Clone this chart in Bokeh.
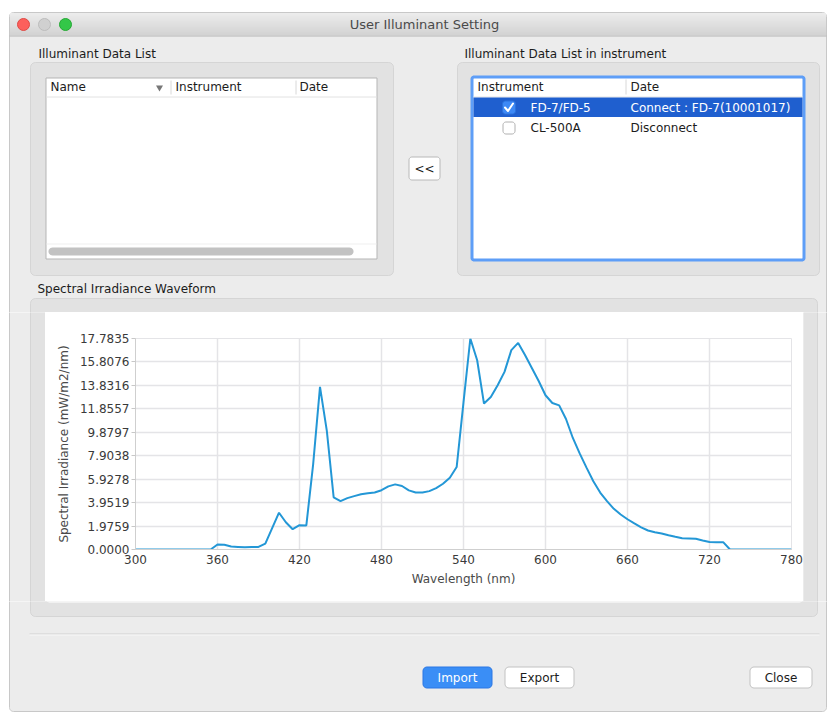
import math
from bokeh.plotting import figure
from bokeh.models import Range1d, FixedTicker, PrintfTickFormatter, ColumnDataSource
from bokeh.layouts import column, row
from bokeh.embed import file_html
from bokeh.resources import INLINE
from bokeh.core.properties import value

# ---------------- data ----------------
wavelength = [300, 305, 310, 315, 320, 325, 330, 335, 340, 345,
              350, 355, 360, 365, 370, 375, 380, 385, 390, 395,
              400, 405, 410, 415, 420, 425, 430, 435, 440, 445,
              450, 455, 460, 465, 470, 475, 480, 485, 490, 495,
              500, 505, 510, 515, 520, 525, 530, 535, 540, 545,
              550, 555, 560, 565, 570, 575, 580, 585, 590, 595,
              600, 605, 610, 615, 620, 625, 630, 635, 640, 645,
              650, 655, 660, 665, 670, 675, 680, 685, 690, 695,
              700, 705, 710, 715, 720, 725, 730, 735, 740, 745,
              750, 755, 760, 765, 770, 775, 780]
irradiance = [0, 0, 0, 0, 0, 0, 0, 0, 0, 0,
              0, 0, 0.42, 0.40, 0.25, 0.22, 0.18, 0.22, 0.22, 0.50,
              1.80, 3.10, 2.30, 1.71, 2.05, 2.03, 7.20, 13.70, 10.00, 4.40,
              4.08, 4.33, 4.50, 4.65, 4.75, 4.81, 5.00, 5.32, 5.49, 5.35,
              4.98, 4.81, 4.81, 4.92, 5.17, 5.54, 6.05, 6.95, 12.40, 17.7835,
              15.95, 12.30, 12.86, 13.84, 14.97, 16.80, 17.41, 16.40, 15.30, 14.20,
              13.00, 12.35, 12.15, 11.00, 9.40, 8.10, 6.90, 5.75, 4.80, 4.08,
              3.43, 2.95, 2.55, 2.20, 1.87, 1.60, 1.46, 1.35, 1.20, 1.07,
              0.95, 0.93, 0.90, 0.76, 0.63, 0.62, 0.62, 0, 0, 0,
              0, 0, 0, 0, 0, 0, 0]
x_ticks = [300, 360, 420, 480, 540, 600, 660, 720, 780]
y_ticks = [0.0, 1.9759, 3.9519, 5.9278, 7.9038, 9.8797, 11.8557, 13.8316, 15.8076, 17.7835]
x_label = "Wavelength (nm)"
y_label = "Spectral Irradiance (mW/m2/nm)"

window_title = "User Illuminant Setting"
left_list_title = "Illuminant Data List"
left_columns = ["Name", "Instrument", "Date"]
right_list_title = "Illuminant Data List in instrument"
right_columns = ["Instrument", "Date"]
instruments = ["FD-7/FD-5", "CL-500A"]
instrument_status = ["Connect : FD-7(10001017)", "Disconnect"]
chart_title = "Spectral Irradiance Waveform"
button_labels = ["Import", "Export", "Close"]
move_label = "<<"

# ---------------- styles ----------------
FONT = "DejaVu Sans"
BODY = "#ececec"
GROUP = "#e2e2e2"
GROUP_LINE = "#d5d5d5"
TEXT = "#1c1c1c"
SEL = "#1f5fcf"
LINE_BLUE = "#2397d6"


def mix(c1, c2, t):
    a = [int(c1[i:i + 2], 16) for i in (1, 3, 5)]
    b = [int(c2[i:i + 2], 16) for i in (1, 3, 5)]
    return "#%02x%02x%02x" % tuple(int(round(a[k] + (b[k] - a[k]) * t)) for k in range(3))


def rpath(l, t, r, b, rad):
    if rad <= 0:
        return [l, r, r, l], [t, t, b, b]
    xs, ys = [], []
    corners = [(l + rad, t + rad, 180), (r - rad, t + rad, 270),
               (r - rad, b - rad, 0), (l + rad, b - rad, 90)]
    for cx, cy, a0 in corners:
        for k in range(7):
            a = math.radians(a0 + 90 * k / 6)
            xs.append(cx + rad * math.cos(a))
            ys.append(cy + rad * math.sin(a))
    return xs, ys


class Canvas:
    def __init__(self, x0, x1, y0, y1, bg="#ffffff"):
        self.r = (x0, x1, y0, y1)
        self.p = figure(width=x1 - x0, height=y1 - y0,
                        x_range=Range1d(x0, x1), y_range=Range1d(y1, y0),
                        x_axis_type=None, y_axis_type=None,
                        toolbar_location=None, output_backend="svg",
                        min_border=0, outline_line_color=None, frame_align=False,
                        background_fill_color=bg, border_fill_color=bg)

    def hit(self, l, t, r, b):
        x0, x1, y0, y1 = self.r
        return r > x0 and l < x1 and b > y0 and t < y1

    def box(self, l, t, r, b, fill, line=None, lw=1, radius=0):
        if not self.hit(l, t, r, b):
            return
        xs, ys = rpath(l, t, r, b, radius)
        self.p.patch(xs, ys, fill_color=fill, line_color=line, line_width=lw)

    def bands(self, l, r, t, b, c1, c2):
        if not self.hit(l, t, r, b):
            return
        n = int(b - t)
        src = ColumnDataSource(dict(
            left=[l] * n, right=[r] * n,
            top=[t + i for i in range(n)], bottom=[t + i + 1.2 for i in range(n)],
            color=[mix(c1, c2, i / max(n - 1, 1)) for i in range(n)]))
        self.p.quad(left="left", right="right", top="top", bottom="bottom",
                    fill_color="color", line_color=None, source=src)

    def seg(self, x0, y0, x1, y1, color, lw=1):
        if not self.hit(min(x0, x1) - 1, min(y0, y1) - 1, max(x0, x1) + 1, max(y0, y1) + 1):
            return
        self.p.segment(x0=[x0], y0=[y0], x1=[x1], y1=[y1], line_color=color, line_width=lw)

    def text(self, x, y, s, size="12px", color=TEXT, align="left", style="normal"):
        if not self.hit(x - 1, y - 1, x + 1, y + 1):
            return
        self.p.text(x=[x], y=[y], text=[s], text_font=value(FONT), text_font_size=size,
                    text_color=color, text_align=align, text_baseline="middle",
                    text_font_style=style)

    def dot(self, x, y, fill, line, size=12):
        if not self.hit(x - 1, y - 1, x + 1, y + 1):
            return
        self.p.scatter(x=[x], y=[y], size=size, fill_color=fill, line_color=line, line_width=1)

    def tri(self, x, y, color, size=7):
        if not self.hit(x - 1, y - 1, x + 1, y + 1):
            return
        self.p.scatter(x=[x], y=[y], marker="inverted_triangle", size=size,
                       fill_color=color, line_color=None)

    def check(self, xs, ys, color):
        if not self.hit(min(xs) - 1, min(ys) - 1, max(xs) + 1, max(ys) + 1):
            return
        self.p.line(x=xs, y=ys, line_color=color, line_width=2, line_join="round", line_cap="round")


def draw_ui(c):
    # dialog body + title bar
    c.box(9, 12, 826, 711, BODY, "#c8c8c8", radius=4)
    c.bands(9.5, 825.5, 12.5, 35, "#ececec", "#d3d3d3")
    c.seg(9, 35.5, 826, 35.5, "#b4b4b4")
    c.dot(23, 24, "#fc605c", "#df4944")
    c.dot(44, 24, "#d0d0d0", "#bcbcbc")
    c.dot(65, 24, "#33c748", "#25a834")
    c.text(424, 24, window_title, size="13px", color="#4a4a4a", align="center")

    # left list
    c.text(38, 53, left_list_title)
    c.box(30, 62, 393, 275, GROUP, GROUP_LINE, radius=5)
    c.box(45.5, 77.5, 376.5, 258.5, "#ffffff", "#b5b5b5")
    c.seg(46, 96.5, 376, 96.5, "#e2e2e2")
    c.seg(170.5, 80, 170.5, 94, "#d8d8d8")
    c.seg(295.5, 80, 295.5, 94, "#d8d8d8")
    c.text(50, 86.5, left_columns[0])
    c.tri(159, 87, "#777777")
    c.text(175, 86.5, left_columns[1])
    c.text(299, 86.5, left_columns[2])
    c.seg(46, 243.5, 376, 243.5, "#efefef")
    c.box(48, 247, 353, 255, "#c2c2c2", radius=4)

    # move button
    c.box(408.5, 156.5, 439.5, 179.5, "#ffffff", "#b8b8b8", radius=3)
    c.text(424, 168.5, move_label, align="center")

    # right list
    c.text(464, 53, right_list_title)
    c.box(457, 62, 819, 275, GROUP, GROUP_LINE, radius=5)
    c.box(471.5, 76.5, 803.5, 259.5, "#ffffff", "#5e9ef7", lw=3, radius=2)
    c.text(477, 86.5, right_columns[0])
    c.seg(625.5, 79, 625.5, 94, "#d8d8d8")
    c.text(630, 86.5, right_columns[1])
    c.seg(473, 96.5, 802, 96.5, "#e2e2e2")
    c.box(473, 97, 802, 116.5, SEL)
    c.box(502, 100.5, 515, 113.5, "#3d89f6", "#2c72dc", radius=3)
    c.check([504.5, 507.5, 512.5], [107, 110.5, 103], "#ffffff")
    c.text(530, 107, instruments[0], color="#ffffff")
    c.text(630, 107, instrument_status[0], color="#ffffff")
    c.box(502.5, 121.5, 514.5, 133.5, "#ffffff", "#b0b0b0", radius=3)
    c.text(530, 127.5, instruments[1])
    c.text(630, 127.5, instrument_status[1])

    # chart group
    c.text(37, 288, chart_title)
    c.box(30, 298, 817, 616, GROUP, GROUP_LINE, radius=5)
    c.box(45, 312, 803, 602, "#ffffff", radius=4)

    # bottom
    c.seg(29, 633.5, 819, 633.5, "#d0d0d0")
    c.seg(29, 634.5, 819, 634.5, "#f8f8f8")
    c.box(422.5, 666.5, 491.5, 687.5, "#3a8ef6", "#2b77e4", radius=4)
    c.text(457, 677, button_labels[0], color="#ffffff", align="center")
    c.box(504.5, 666.5, 573.5, 687.5, "#ffffff", "#c2c2c2", radius=4)
    c.text(539, 677, button_labels[1], align="center")
    c.box(749.5, 666.5, 811.5, 687.5, "#ffffff", "#c2c2c2", radius=4)
    c.text(780.5, 677, button_labels[2], align="center")


def chrome(x0, x1, y0, y1):
    c = Canvas(x0, x1, y0, y1)
    draw_ui(c)
    return c.p


# ---------------- chart ----------------
chart = figure(width=758, height=289,
               x_range=Range1d(x_ticks[0], x_ticks[-1]),
               y_range=Range1d(y_ticks[0], y_ticks[-1]),
               toolbar_location=None, output_backend="svg", frame_align=False,
               min_border_left=90, min_border_right=12, min_border_top=26, min_border_bottom=52,
               background_fill_color="#ffffff", border_fill_color="#ffffff",
               outline_line_color="#e4e4e7")
chart.line(wavelength, irradiance, line_color=LINE_BLUE, line_width=2)

chart.xaxis.ticker = FixedTicker(ticks=x_ticks)
chart.yaxis.ticker = FixedTicker(ticks=y_ticks)
chart.yaxis.formatter = PrintfTickFormatter(format="%.4f")
chart.xgrid.ticker = FixedTicker(ticks=x_ticks)
chart.ygrid.ticker = FixedTicker(ticks=y_ticks)
for g in (chart.xgrid, chart.ygrid):
    g.grid_line_color = "#e4e4e7"
    g.grid_line_width = 1.5

for ax in (chart.xaxis, chart.yaxis):
    ax.axis_line_color = "#cfcfcf"
    ax.major_tick_line_color = "#c8c8c8"
    ax.minor_tick_line_color = None
    ax.major_label_text_font = FONT
    ax.major_label_text_font_size = "12px"
    ax.major_label_text_color = "#3a3a3a"
    ax.axis_label_text_font = FONT
    ax.axis_label_text_font_size = "12px"
    ax.axis_label_text_font_style = "normal"
    ax.axis_label_text_color = "#4a4a4a"

chart.xaxis.axis_label = x_label
chart.yaxis.axis_label = y_label
chart.xaxis.major_tick_in = 0
chart.xaxis.major_tick_out = 0
chart.xaxis.major_label_standoff = 5
chart.xaxis.axis_label_standoff = 5
chart.yaxis.major_tick_in = 0
chart.yaxis.major_tick_out = 4
chart.yaxis.major_label_standoff = 2
chart.yaxis.axis_label_standoff = 6

# ---------------- layout (reference pixel coords 0..830 x 0..712) ----------------
top = chrome(0, 830, 0, 312)
left = chrome(0, 45, 312, 601)
right = chrome(803, 830, 312, 601)
bottom = chrome(0, 830, 601, 712)

layout = column(top, row(left, chart, right, spacing=0), bottom, spacing=0)

open("out.html", "w").write(file_html(layout, INLINE))
